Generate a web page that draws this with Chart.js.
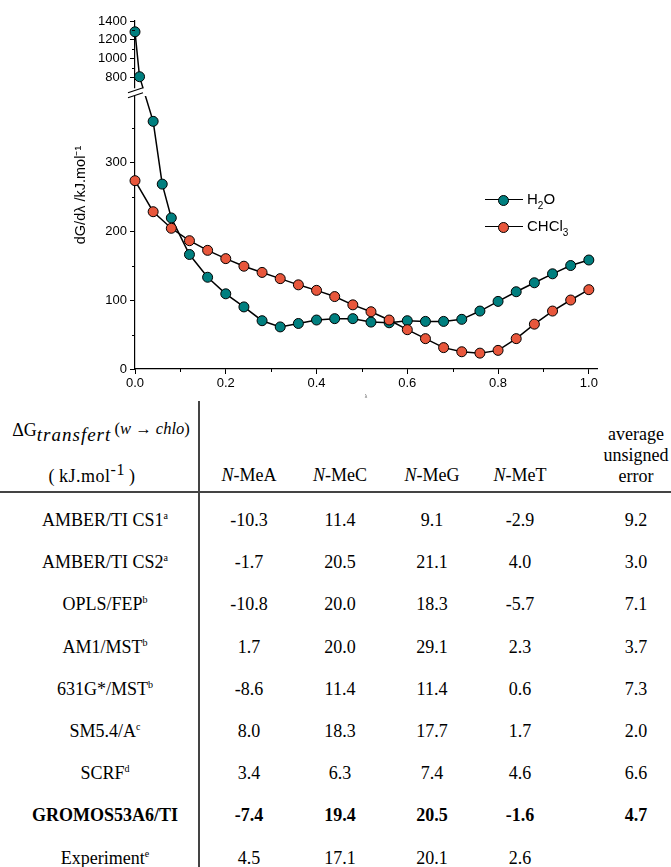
<!DOCTYPE html>
<html>
<head>
<meta charset="utf-8">
<script src="https://cdn.jsdelivr.net/npm/chart.js@4/dist/chart.umd.min.js"></script>
<style>
  body { margin: 0; background: #fff; }
  #page { position: relative; width: 671px; height: 867px; overflow: hidden; background: #fff; }
  #chartBox { position: absolute; left: 0; top: 0; width: 671px; height: 400px; }
  .lg { position: absolute; font: 15px "Liberation Sans", Arial, sans-serif; color: #000; }
  .lg .ln { position: absolute; left: 0; top: 7px; width: 38px; height: 0; border-top: 1.5px solid #000; }
  .lg .dot { position: absolute; left: 13px; top: 2.5px; width: 9px; height: 9px; border: 1px solid #000; border-radius: 50%; }
  .lg .tx { position: absolute; left: 42px; top: -2px; white-space: nowrap; }
  .lg sub { font-size: 10px; vertical-align: -5px; }
  .cell { position: absolute; transform: translate(-50%, -50%); white-space: nowrap;
          font: 18px "Liberation Serif", "Times New Roman", serif; color: #000; text-align: center; }
  .cell sup.n { font-size: 10px; vertical-align: 7px; }
  .vline { position: absolute; left: 198px; top: 401px; width: 1.5px; height: 466px; background: #444; }
  .hline { position: absolute; left: 0; top: 491px; width: 671px; height: 1.5px; background: #444; }
</style>
</head>
<body>
<div id="page">
  <div id="chartBox"><canvas id="chart"></canvas></div>
  <div class="lg" style="left:485px; top:192px;">
    <div class="ln"></div><div class="dot" style="background:#007f7f"></div>
    <div class="tx">H<sub>2</sub>O</div>
  </div>
  <div class="lg" style="left:485px; top:219px;">
    <div class="ln"></div><div class="dot" style="background:#e8573c"></div>
    <div class="tx">CHCl<sub>3</sub></div>
  </div>
  <div class="vline"></div>
  <div class="hline"></div>
  <div id="table"></div>
</div>
<script>
// dG/dlambda curves
const lambdaH2O = [0, 0.01, 0.04, 0.06, 0.08, 0.12, 0.16, 0.20, 0.24, 0.28, 0.32, 0.36, 0.40, 0.44,
                   0.48, 0.52, 0.56, 0.60, 0.64, 0.68, 0.72, 0.76, 0.80, 0.84, 0.88, 0.92, 0.96, 1.00];
const dgH2O = [1285, 807, 359, 268, 219, 166, 133, 109, 90, 70, 61, 66, 71, 73,
               73, 68, 67, 70, 69, 69, 72, 84, 98, 112, 125, 138, 150, 158];
const lambdaCHCl3 = [0, 0.04, 0.08, 0.12, 0.16, 0.20, 0.24, 0.28, 0.32, 0.36, 0.40, 0.44, 0.48,
                     0.52, 0.56, 0.60, 0.64, 0.68, 0.72, 0.76, 0.80, 0.84, 0.88, 0.92, 0.96, 1.00];
const dgCHCl3 = [273, 228, 204, 186, 172, 160, 149, 140, 131, 122, 114, 105, 93,
                 83, 71, 57, 44, 31, 25, 23, 27, 44, 65, 84, 100, 115];

const xTicks = [0, 0.2, 0.4, 0.6, 0.8, 1.0];
const xMinor = [0.1, 0.3, 0.5, 0.7, 0.9];
const yTicks = [0, 100, 200, 300, 800, 1000, 1200, 1400];
const yMinor = [50, 150, 250, 350, 900, 1100, 1300];

// table
const methods = ['AMBER/TI CS1', 'AMBER/TI CS2', 'OPLS/FEP', 'AM1/MST', '631G*/MST',
                 'SM5.4/A', 'SCRF', 'GROMOS53A6/TI', 'Experiment'];
const notes = ['a', 'a', 'b', 'b', 'b', 'c', 'd', '', 'e'];
const nMeA = [-10.3, -1.7, -10.8, 1.7, -8.6, 8.0, 3.4, -7.4, 4.5];
const nMeC = [11.4, 20.5, 20.0, 20.0, 11.4, 18.3, 6.3, 19.4, 17.1];
const nMeG = [9.1, 21.1, 18.3, 29.1, 11.4, 17.7, 7.4, 20.5, 20.1];
const nMeT = [-2.9, 4.0, -5.7, 2.3, 0.6, 1.7, 4.6, -1.6, 2.6];
const avgError = [9.2, 3.0, 7.1, 3.7, 7.3, 2.0, 6.6, 4.7, null];
const boldRow = 7;

// broken y axis: lower part 0..395, upper part 700..1400
const LOW_TOP = 395, HIGH_BOTTOM = 700, TOP = 1400;
const LOW_FRAC = 0.783, HIGH_FRAC = 0.811;

function valueToDecimal(v) {
  if (v <= LOW_TOP) return v / LOW_TOP * LOW_FRAC;
  if (v >= HIGH_BOTTOM) return HIGH_FRAC + (v - HIGH_BOTTOM) / (TOP - HIGH_BOTTOM) * (1 - HIGH_FRAC);
  return LOW_FRAC + (v - LOW_TOP) / (HIGH_BOTTOM - LOW_TOP) * (HIGH_FRAC - LOW_FRAC);
}
function decimalToValue(d) {
  if (d <= LOW_FRAC) return d / LOW_FRAC * LOW_TOP;
  if (d >= HIGH_FRAC) return HIGH_BOTTOM + (d - HIGH_FRAC) / (1 - HIGH_FRAC) * (TOP - HIGH_BOTTOM);
  return LOW_TOP + (d - LOW_FRAC) / (HIGH_FRAC - LOW_FRAC) * (HIGH_BOTTOM - LOW_TOP);
}

class BrokenLinearScale extends Chart.LinearScale {
  buildTicks() { return yTicks.map(v => ({ value: v })); }
  getPixelForValue(v) { return this.getPixelForDecimal(valueToDecimal(v)); }
  getValueForPixel(p) { return decimalToValue(this.getDecimalForPixel(p)); }
}
BrokenLinearScale.id = 'brokenLinear';
BrokenLinearScale.defaults = Chart.LinearScale.defaults;
Chart.register(BrokenLinearScale);

// minor ticks and the axis break marks
const axisExtras = {
  id: 'axisExtras',
  afterDraw(chart) {
    const { ctx, chartArea: a, scales: { x, y } } = chart;
    ctx.save();
    ctx.strokeStyle = '#000';
    ctx.lineWidth = 1;
    ctx.beginPath();
    xMinor.forEach(v => {
      const px = Math.round(x.getPixelForValue(v)) + 0.5;
      ctx.moveTo(px, a.bottom); ctx.lineTo(px, a.bottom + 3);
    });
    yMinor.forEach(v => {
      const py = Math.round(y.getPixelForValue(v)) + 0.5;
      ctx.moveTo(a.left, py); ctx.lineTo(a.left - 3, py);
    });
    ctx.stroke();

    const yHi = y.getPixelForValue(HIGH_BOTTOM);
    const yLo = y.getPixelForValue(LOW_TOP);
    ctx.fillStyle = '#fff';
    ctx.fillRect(a.left - 8, yHi + 1.5, a.right - a.left + 8, yLo - yHi - 2);
    ctx.lineWidth = 1.2;
    ctx.beginPath();
    ctx.moveTo(a.left - 7, yHi + 6); ctx.lineTo(a.left + 8, yHi + 1);
    ctx.moveTo(a.left - 7, yHi + 11); ctx.lineTo(a.left + 8, yHi + 6);
    ctx.stroke();
    ctx.restore();
  }
};

const tickFont = { family: '"Liberation Sans", Arial, sans-serif', size: 13 };

new Chart(document.getElementById('chart'), {
  type: 'line',
  data: {
    datasets: [{
      label: 'CHCl3',
      data: lambdaCHCl3.map((l, i) => ({ x: l, y: dgCHCl3[i] })),
      borderColor: '#000',
      borderWidth: 1.5,
      pointBackgroundColor: '#e8573c',
      pointBorderColor: '#000',
      pointBorderWidth: 1,
      pointRadius: 5,
      clip: false
    }, {
      label: 'H2O',
      data: lambdaH2O.map((l, i) => ({ x: l, y: dgH2O[i] })),
      borderColor: '#000',
      borderWidth: 1.5,
      pointBackgroundColor: '#007f7f',
      pointBorderColor: '#000',
      pointBorderWidth: 1,
      pointRadius: 5,
      clip: false
    }]
  },
  options: {
    responsive: true,
    maintainAspectRatio: false,
    animation: false,
    devicePixelRatio: 1,
    layout: { padding: { left: 0, right: 74, top: 21, bottom: 0 } },
    plugins: { legend: { display: false }, tooltip: { enabled: false } },
    scales: {
      x: {
        type: 'linear',
        min: 0,
        max: 1.018,
        afterBuildTicks: s => { s.ticks = xTicks.map(v => ({ value: v })); },
        afterFit: s => { s.height = 31; },
        ticks: { color: '#000', font: tickFont, padding: 2, maxRotation: 0,
                 callback: v => v.toFixed(1) },
        grid: { drawOnChartArea: false, tickLength: 5, tickColor: '#000' },
        border: { color: '#000', width: 1.2 },
        title: { display: true, text: 'λ', color: '#555', font: { size: 5 }, padding: 0 }
      },
      y: {
        type: 'brokenLinear',
        min: 0,
        max: 1400,
        afterFit: s => { s.width = 135; },
        ticks: { color: '#000', font: tickFont, padding: 3, callback: v => String(v) },
        grid: { drawOnChartArea: false, tickLength: 5, tickColor: '#000' },
        border: { color: '#000', width: 1.2 },
        title: { display: true, text: 'dG/dλ /kJ.mol⁻¹', color: '#000',
                 font: { family: '"Liberation Sans", Arial, sans-serif', size: 14.5 },
                 padding: { top: 72, bottom: 0 } }
      }
    }
  },
  plugins: [axisExtras]
});

// table below the chart
const table = document.getElementById('table');
function place(html, cx, cy, extra) {
  const d = document.createElement('div');
  d.className = 'cell';
  d.style.left = cx + 'px';
  d.style.top = cy + 'px';
  if (extra) d.style.cssText += extra;
  d.innerHTML = html;
  table.appendChild(d);
}

place('ΔG<i style="position:relative; top:5px; font-size:19px; letter-spacing:1px">transfert</i>' +
      '<span style="font-size:16.5px; position:relative; top:-2px">&thinsp;(<i>w</i> → <i>chlo</i>)</span>',
      101, 430, 'font-size:18px');
place('(&thinsp;kJ.mol<sup style="font-size:16px">-1</sup>&thinsp;)', 92, 474, 'font-size:18px; letter-spacing:0.5px');

const colX = [249, 340, 432, 520];
const colNames = ['MeA', 'MeC', 'MeG', 'MeT'];
colNames.forEach((n, i) => place('<i>N</i>-' + n, colX[i], 475));
place('average', 636, 434);
place('unsigned', 636, 455);
place('error', 636, 476);

const columns = [nMeA, nMeC, nMeG, nMeT];
const rowY0 = 520, rowStep = 42.2;
methods.forEach((m, r) => {
  const cy = rowY0 + r * rowStep;
  const b = r === boldRow ? 'font-weight:bold' : '';
  place(m + (notes[r] ? '<sup class="n">' + notes[r] + '</sup>' : ''), 105, cy, b);
  columns.forEach((col, c) => place(col[r].toFixed(1), colX[c], cy, b));
  if (avgError[r] !== null) place(avgError[r].toFixed(1), 636, cy, b);
});
</script>
</body>
</html>
